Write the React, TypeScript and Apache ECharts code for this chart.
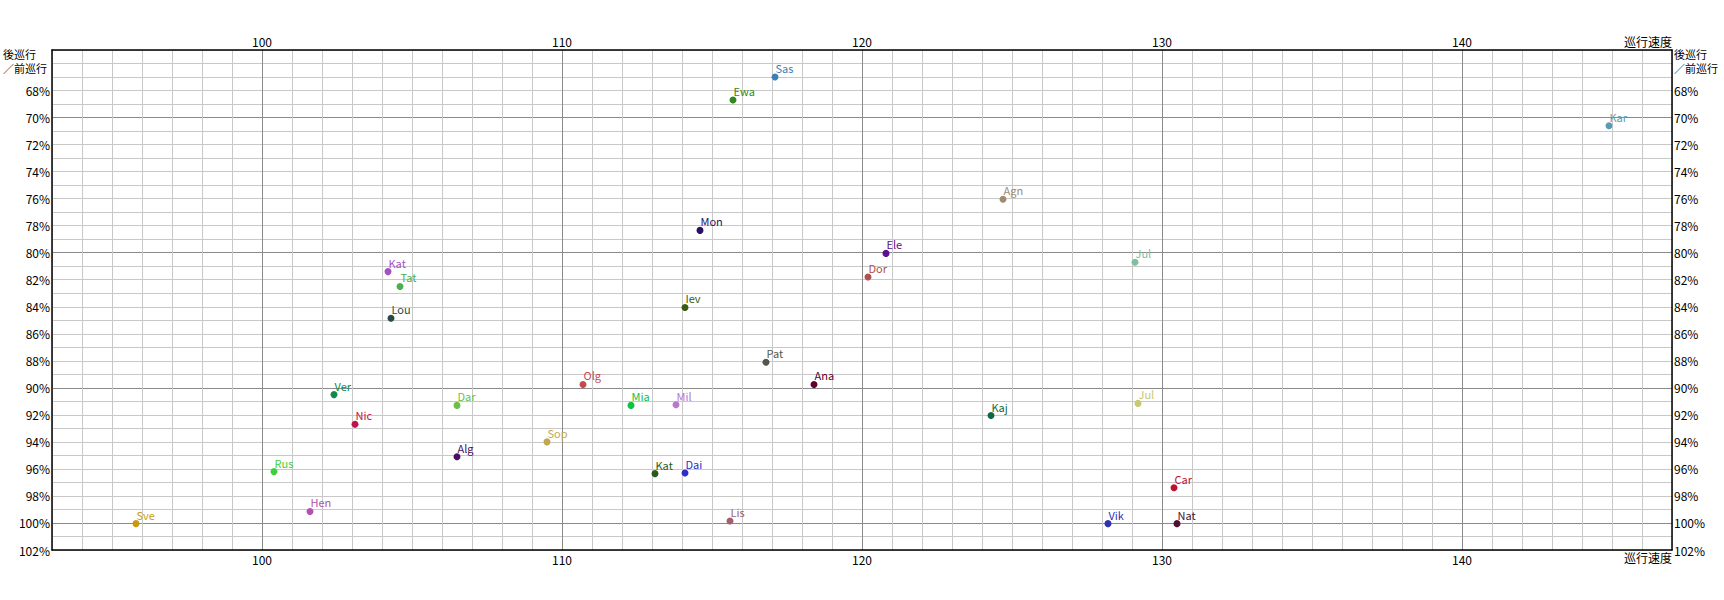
import React, { useEffect, useRef } from "react";
import * as echarts from "echarts";

const names = ["Sas", "Ewa", "Kar", "Agn", "Mon", "Ele", "Jul", "Dor", "Kat", "Tat", "Lou", "Iev", "Pat", "Ana", "Olg", "Mia", "Mil", "Sop", "Kat", "Dai", "Lis", "Ver", "Dar", "Nic", "Alg", "Rus", "Hen", "Sve", "Jul", "Car", "Vik", "Nat", "Kaj"];
const speeds = [117.1, 115.7, 144.9, 124.7, 114.6, 120.8, 129.1, 120.2, 104.2, 104.6, 104.3, 114.1, 116.8, 118.4, 110.7, 112.3, 113.8, 109.5, 113.1, 114.1, 115.6, 102.4, 106.5, 103.1, 106.5, 100.4, 101.6, 95.8, 129.2, 130.4, 128.2, 130.5, 124.3];
const ratios = [67.0, 68.7, 70.6, 76.05, 78.35, 80.05, 80.7, 81.8, 81.4, 82.5, 84.85, 84.05, 88.1, 89.75, 89.75, 91.3, 91.25, 94.0, 96.35, 96.3, 99.85, 90.5, 91.3, 92.7, 95.1, 96.2, 99.15, 100.05, 91.15, 97.4, 100.05, 100.05, 92.05];
const colors = ["#3f80b4", "#2f8a18", "#5b9bb1", "#a08a70", "#2a1060", "#5a1090", "#80c0a0", "#b05050", "#a64dc8", "#4caf50", "#2a4a44", "#3a5a10", "#55554a", "#600030", "#c84850", "#12c044", "#b878d0", "#c0a850", "#2a5a20", "#2a30c8", "#a06070", "#0e8a4a", "#6cbf4a", "#c0114a", "#4a1060", "#3ecf3e", "#b050b0", "#c89a10", "#c8c870", "#c01030", "#3030b0", "#501030", "#106840"];

const xMin = 93;
const xMax = 147;
const yMin = 65;
const yMax = 102;
const xAxisName = "巡行速度";
const yAxisNameLines = ["後巡行", "／前巡行"];

const FONT = "'Noto Sans CJK JP', 'Noto Sans', sans-serif";
const LIGHT = "#c8c8c8";
const DARK = "#8a8a8a";

function cycle(darkIdx: number) {
  const arr: string[] = [];
  for (let i = 0; i < 10; i++) arr.push(i === darkIdx ? DARK : LIGHT);
  return arr;
}

export default function App() {
  const ref = useRef<HTMLDivElement>(null);
  useEffect(() => {
    if (!ref.current) return;
    const chart = echarts.init(ref.current, undefined, { renderer: "svg" });
    const xLabel = (v: number) => (Math.round(v) % 10 === 0 ? String(Math.round(v)) : "");
    const yLabel = (v: number) => {
      const r = Math.round(v);
      return r % 2 === 0 && r >= 68 ? r + "%" : "";
    };
    const xCommon = {
      type: "value" as const,
      min: xMin,
      max: xMax,
      interval: 1,
      axisLine: { show: true, onZero: false, lineStyle: { color: "#000", width: 1.5 } },
      axisTick: { show: false },
      axisLabel: { formatter: xLabel, color: "#000", fontSize: 12, fontFamily: FONT, margin: 3 },
    };
    const yCommon = {
      type: "value" as const,
      min: yMin,
      max: yMax,
      interval: 1,
      inverse: true,
      axisLine: { show: true, onZero: false, lineStyle: { color: "#000", width: 1.5 } },
      axisTick: { show: false },
      axisLabel: { formatter: yLabel, color: "#000", fontSize: 12, fontFamily: FONT, margin: 2 },
    };
    const data = names.map((n, i) => ({
      name: n,
      value: [speeds[i], ratios[i]],
      itemStyle: { color: colors[i], opacity: 1 },
      label: { color: colors[i] },
    }));
    const nameFont = `11px ${FONT}`;
    chart.setOption({
      animation: false,
      backgroundColor: "#fff",
      grid: { left: 52, top: 50, right: 52, bottom: 50, containLabel: false },
      xAxis: [
        {
          ...xCommon,
          position: "bottom",
          splitLine: { show: true, lineStyle: { color: cycle(7), width: 1 } },
        },
        { ...xCommon, position: "top", splitLine: { show: false } },
      ],
      yAxis: [
        {
          ...yCommon,
          position: "left",
          splitLine: { show: true, lineStyle: { color: cycle(5), width: 1 } },
        },
        { ...yCommon, position: "right", splitLine: { show: false } },
      ],
      graphic: [
        { type: "text", x: 3, y: 48, style: { text: yAxisNameLines[0], fill: "#000", font: nameFont, textVerticalAlign: "top" } },
        { type: "text", x: 3, y: 62, style: { text: yAxisNameLines[1], fill: "#000", font: nameFont, textVerticalAlign: "top" } },
        { type: "text", x: 1674, y: 48, style: { text: yAxisNameLines[0], fill: "#000", font: nameFont, textVerticalAlign: "top" } },
        { type: "text", x: 1674, y: 62, style: { text: yAxisNameLines[1], fill: "#000", font: nameFont, textVerticalAlign: "top" } },
        { type: "text", right: 52, top: 35, style: { text: xAxisName, fill: "#000", font: `12px ${FONT}` } },
        { type: "text", right: 52, top: 551, style: { text: xAxisName, fill: "#000", font: `12px ${FONT}` } },
      ],
      series: [
        {
          type: "scatter",
          xAxisIndex: 0,
          yAxisIndex: 0,
          symbol: "circle",
          symbolSize: 7,
          itemStyle: { opacity: 1 },
          data,
          label: {
            show: true,
            formatter: "{b}",
            position: [4, -11],
            fontSize: 11,
            fontFamily: FONT,
          },
        },
      ],
    });
    return () => chart.dispose();
  }, []);
  return (
    <div
      ref={ref}
      style={{ position: "fixed", left: 0, top: 0, width: 1724, height: 600, background: "#fff" }}
    />
  );
}
